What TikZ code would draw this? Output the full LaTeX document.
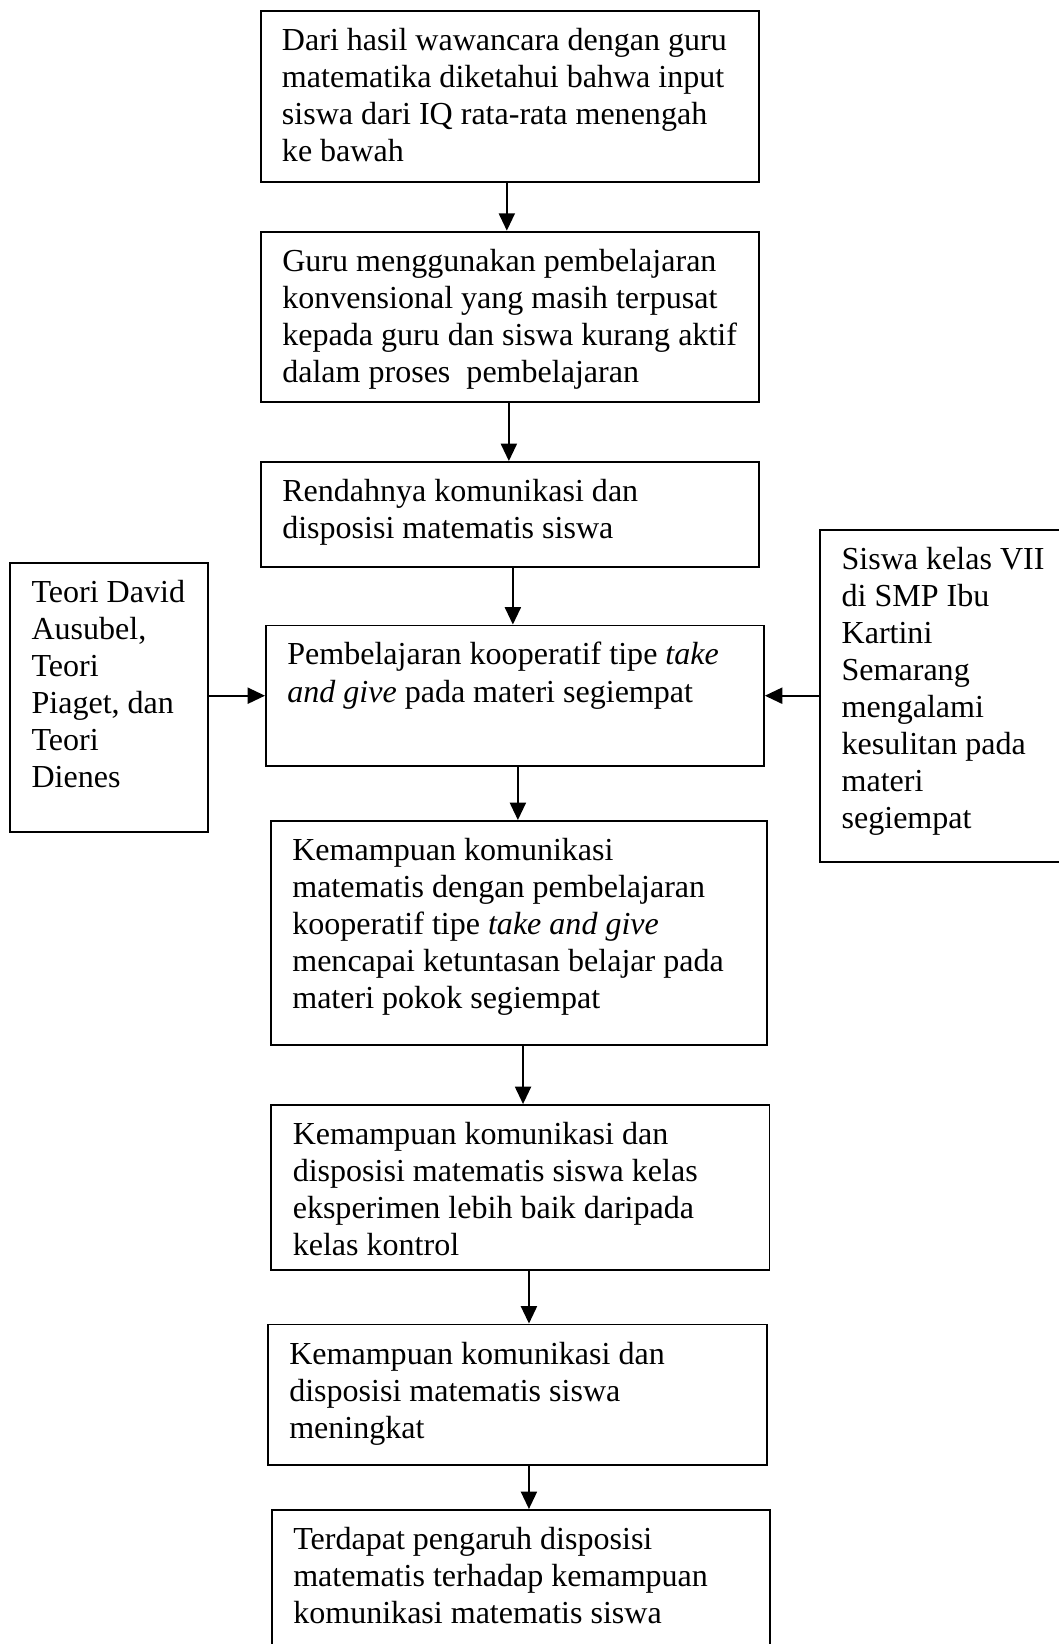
\documentclass[tikz,border=0pt]{standalone}
\usepackage{fontspec}
\setmainfont{Liberation Serif}
\usetikzlibrary{arrows.meta}
\begin{document}
\begin{tikzpicture}
[flowBox/.style={draw,line width=0.7pt,anchor=north west,inner xsep=6pt,inner ysep=0pt,%
    align=left,text height=14.8pt,font=\fontsize{12pt}{13.86pt}\selectfont,%
    execute at begin node={\leftskip=2pt\spaceskip=0pt\xspaceskip=0pt}},%
  flowArrow/.style={-{Triangle[length=6.5pt,width=6pt]},line width=0.7pt}]
%% page
\useasboundingbox (0,0) rectangle (13.938,-21.638);
\clip (0,0) rectangle (13.938,-21.638);
%% main column
\node (b1) at (3.418,-0.132) [flowBox,text width=174.6pt,text depth=49.2pt]
  {Dari hasil wawancara dengan guru\\ matematika diketahui bahwa input\\ siswa dari IQ rata-rata menengah\\ ke bawah};
\node (b2) at (3.422,-3.036) [flowBox,text width=174.5pt,text depth=49.0pt]
  {Guru menggunakan pembelajaran\\ konvensional yang masih terpusat\\ kepada guru dan siswa kurang aktif\\ dalam proses\ \ pembelajaran};
\node (b3) at (3.422,-6.068) [flowBox,text width=174.5pt,text depth=24.5pt]
  {Rendahnya komunikasi dan\\ disposisi matematis siswa};
\node (b4) at (3.488,-8.220) [flowBox,text width=174.5pt,text depth=37.8pt]
  {Pembelajaran kooperatif tipe \textit{take}\\ \textit{and give} pada materi segiempat};
\node (b5) at (3.554,-10.793) [flowBox,text width=173.6pt,text depth=69.2pt]
  {Kemampuan komunikasi\\ matematis dengan pembelajaran\\ kooperatif tipe \textit{take and give}\\ mencapai ketuntasan belajar pada\\ materi pokok segiempat};
\node (b6) at (3.560,-14.531) [flowBox,text width=174.5pt,text depth=47.0pt]
  {Kemampuan komunikasi dan\\ disposisi matematis siswa kelas\\ eksperimen lebih baik daripada\\ kelas kontrol};
\node (b7) at (3.514,-17.420) [flowBox,text width=174.9pt,text depth=37.8pt]
  {Kemampuan komunikasi dan\\ disposisi matematis siswa\\ meningkat};
\node (b8) at (3.567,-19.861) [flowBox,text width=174.4pt,text depth=60pt]
  {Terdapat pengaruh disposisi\\ matematis terhadap kemampuan\\ komunikasi matematis siswa};
%% side boxes
\node (teori) at (0.122,-7.393) [flowBox,text width=62pt,text depth=86.1pt]
  {Teori David\\ Ausubel,\\ Teori\\ Piaget, dan\\ Teori\\ Dienes};
\node (siswa) at (10.784,-6.967) [flowBox,text width=118pt,text depth=109.4pt]
  {Siswa kelas VII\\ di SMP Ibu\\ Kartini\\ Semarang\\ mengalami\\ kesulitan pada\\ materi\\ segiempat};
%% arrows down the column
\foreach \startnode/\endnode/\dx in {b1/b2/-1.1pt, b2/b3/-0.4pt, b3/b4/1.1pt, b4/b5/1.1pt, b5/b6/1.6pt, b6/b7/3.2pt, b7/b8/4.3pt}
{
  \draw[flowArrow] ([xshift=\dx]\startnode.south) coordinate (p) -- (p |- \endnode.north);
}
%% arrows from the sides
\draw[flowArrow] (teori.east |- b4.west) -- (b4.west);
\draw[flowArrow] (siswa.west |- b4.east) -- (b4.east);
\end{tikzpicture}
\end{document}
